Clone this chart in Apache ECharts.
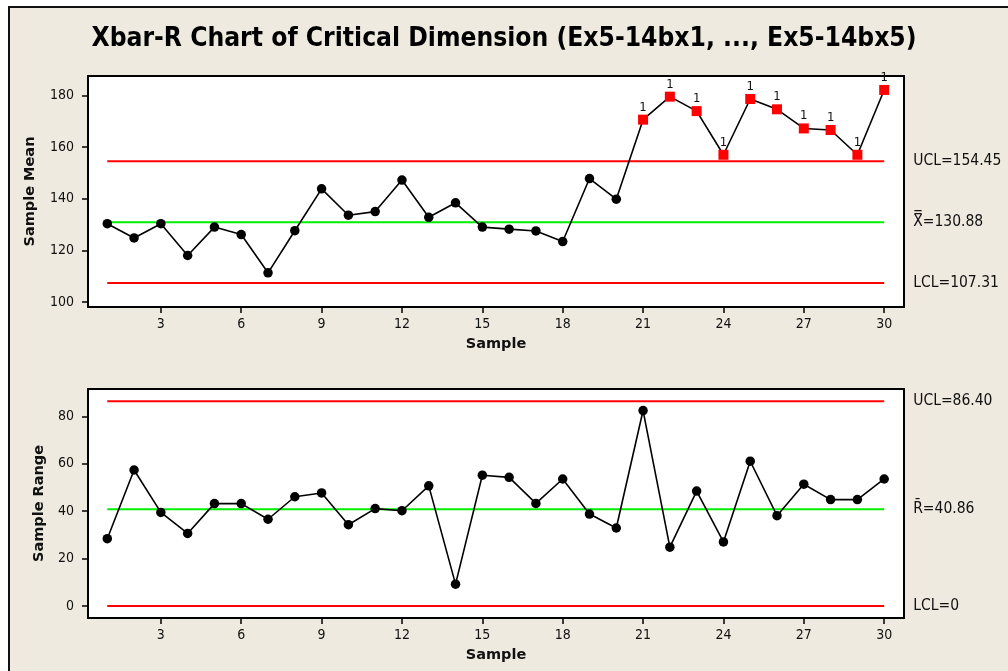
<!DOCTYPE html>
<html>
<head>
<meta charset="utf-8">
<script src="https://cdn.jsdelivr.net/npm/echarts@6/dist/echarts.min.js"></script>
<style>
  html, body { margin: 0; padding: 0; background: #ffffff; width: 1008px; height: 671px; overflow: hidden; }
  #frame { position: absolute; left: 8px; top: 6px; right: -40px; bottom: -40px; border-left: 2px solid #111; border-top: 2px solid #111; border-right: none; border-bottom: none; background: #EEEAE0; }
  #main { position: absolute; left: 0; top: 0; width: 1008px; height: 671px; }
</style>
</head>
<body>
<div id="frame"></div>
<div id="main"></div>
<script>
// ---- data ----
const samples = [1,2,3,4,5,6,7,8,9,10,11,12,13,14,15,16,17,18,19,20,21,22,23,24,25,26,27,28,29,30];
const meanValues = [130.3,124.8,130.3,118.0,129.0,126.1,111.3,127.6,143.8,133.6,135.0,147.2,132.8,138.4,129.0,128.2,127.5,123.4,147.8,139.8,170.6,179.5,173.9,157.0,178.6,174.6,167.2,166.6,157.0,182.1];
const rangeValues = [28.4,57.4,39.5,30.6,43.2,43.2,36.6,46.1,47.7,34.3,41.1,40.2,50.7,9.2,55.2,54.3,43.3,53.6,38.8,32.9,82.5,24.8,48.5,27.0,61.1,38.1,51.4,44.9,44.9,53.6];
const meanUCL = 154.45, meanCL = 130.88, meanLCL = 107.31;
const rangeUCL = 86.40, rangeCL = 40.86, rangeLCL = 0;
const xTicks = [3,6,9,12,15,18,21,24,27,30];
const meanTicks = [100,120,140,160,180];
const rangeTicks = [0,20,40,60,80];
const titleText = 'Xbar-R Chart of Critical Dimension (Ex5-14bx1, ..., Ex5-14bx5)';

// ---- chart ----
const FONT = 'DejaVu Sans Condensed, DejaVu Sans, sans-serif';
const TXT = '#111';
const chart = echarts.init(document.getElementById('main'), null, {renderer: 'canvas'});

function pointItems(values, ucl, lcl) {
  return values.map((v, i) => {
    const out = v > ucl || v < lcl;
    const item = {value: [samples[i], v]};
    if (out) {
      item.symbol = 'rect';
      item.symbolSize = 10;
      item.itemStyle = {color: '#FF0000'};
      item.label = {show: true, formatter: '1', position: 'top', distance: 1,
        fontFamily: FONT, fontSize: 13, color: TXT};
    }
    return item;
  });
}

function limitLine(gridIdx, value, color, text) {
  return {
    type: 'line', xAxisIndex: gridIdx, yAxisIndex: gridIdx,
    data: [[samples[0], value], [samples[samples.length - 1], value]],
    symbol: 'none', silent: true, z: 2,
    lineStyle: {color: color, width: 2},
    endLabel: {show: true, formatter: text, distance: 29,
      fontFamily: FONT, fontSize: 15.5, color: TXT}
  };
}

function xAxis(gridIdx) {
  return {
    type: 'value', gridIndex: gridIdx, min: 0.28, max: 30.74,
    name: 'Sample', nameLocation: 'middle', nameGap: 30,
    nameTextStyle: {fontFamily: 'DejaVu Sans, sans-serif', fontWeight: 'bold', fontSize: 14.5, color: TXT},
    axisLine: {show: true, onZero: false, lineStyle: {color: '#000', width: 2}},
    axisTick: {show: true, length: 6, customValues: xTicks, lineStyle: {color: '#000', width: 1.5}},
    axisLabel: {customValues: xTicks, margin: 10, fontFamily: FONT, fontSize: 14, color: TXT},
    splitLine: {show: false}
  };
}

function yAxis(gridIdx, min, max, ticks, name, gap) {
  return {
    type: 'value', gridIndex: gridIdx, min: min, max: max,
    name: name, nameLocation: 'middle', nameGap: gap, nameRotate: 90,
    nameTextStyle: {fontFamily: 'DejaVu Sans, sans-serif', fontWeight: 'bold', fontSize: 14.5, color: TXT},
    axisLine: {show: true, onZero: false, lineStyle: {color: '#000', width: 2}},
    axisTick: {show: true, length: 6, customValues: ticks, lineStyle: {color: '#000', width: 1.5}},
    axisLabel: {customValues: ticks, margin: 14, fontFamily: FONT, fontSize: 14, color: TXT},
    splitLine: {show: false}
  };
}

function dataSeries(gridIdx, values, ucl, lcl) {
  return {
    type: 'line', xAxisIndex: gridIdx, yAxisIndex: gridIdx,
    data: pointItems(values, ucl, lcl),
    symbol: 'circle', symbolSize: 9.5, z: 5,
    lineStyle: {color: '#000', width: 1.6},
    itemStyle: {color: '#000'}
  };
}

chart.setOption({
  animation: false,
  backgroundColor: 'transparent',
  title: {
    text: titleText, left: 'center', top: 21,
    textStyle: {fontFamily: FONT, fontWeight: 'bold', fontSize: 26.2, color: '#000'}
  },
  grid: [
    {left: 88, right: 104, top: 76, height: 231, show: true, backgroundColor: '#ffffff', borderColor: '#000', borderWidth: 2},
    {left: 88, right: 104, top: 389, height: 229, show: true, backgroundColor: '#ffffff', borderColor: '#000', borderWidth: 2}
  ],
  xAxis: [xAxis(0), xAxis(1)],
  yAxis: [
    yAxis(0, 98.06, 187.5, meanTicks, 'Sample Mean', 50),
    yAxis(1, -5.1, 91.6, rangeTicks, 'Sample Range', 40)
  ],
  series: [
    limitLine(0, meanUCL, '#FF0000', 'UCL=' + meanUCL.toFixed(2)),
    limitLine(0, meanCL, '#00EE00', 'X\u033F=' + meanCL.toFixed(2)),
    limitLine(0, meanLCL, '#FF0000', 'LCL=' + meanLCL.toFixed(2)),
    dataSeries(0, meanValues, meanUCL, meanLCL),
    limitLine(1, rangeUCL, '#FF0000', 'UCL=' + rangeUCL.toFixed(2)),
    limitLine(1, rangeCL, '#00EE00', 'R\u0304=' + rangeCL.toFixed(2)),
    limitLine(1, rangeLCL, '#FF0000', 'LCL=' + rangeLCL),
    dataSeries(1, rangeValues, rangeUCL, rangeLCL)
  ]
});
</script>
</body>
</html>
